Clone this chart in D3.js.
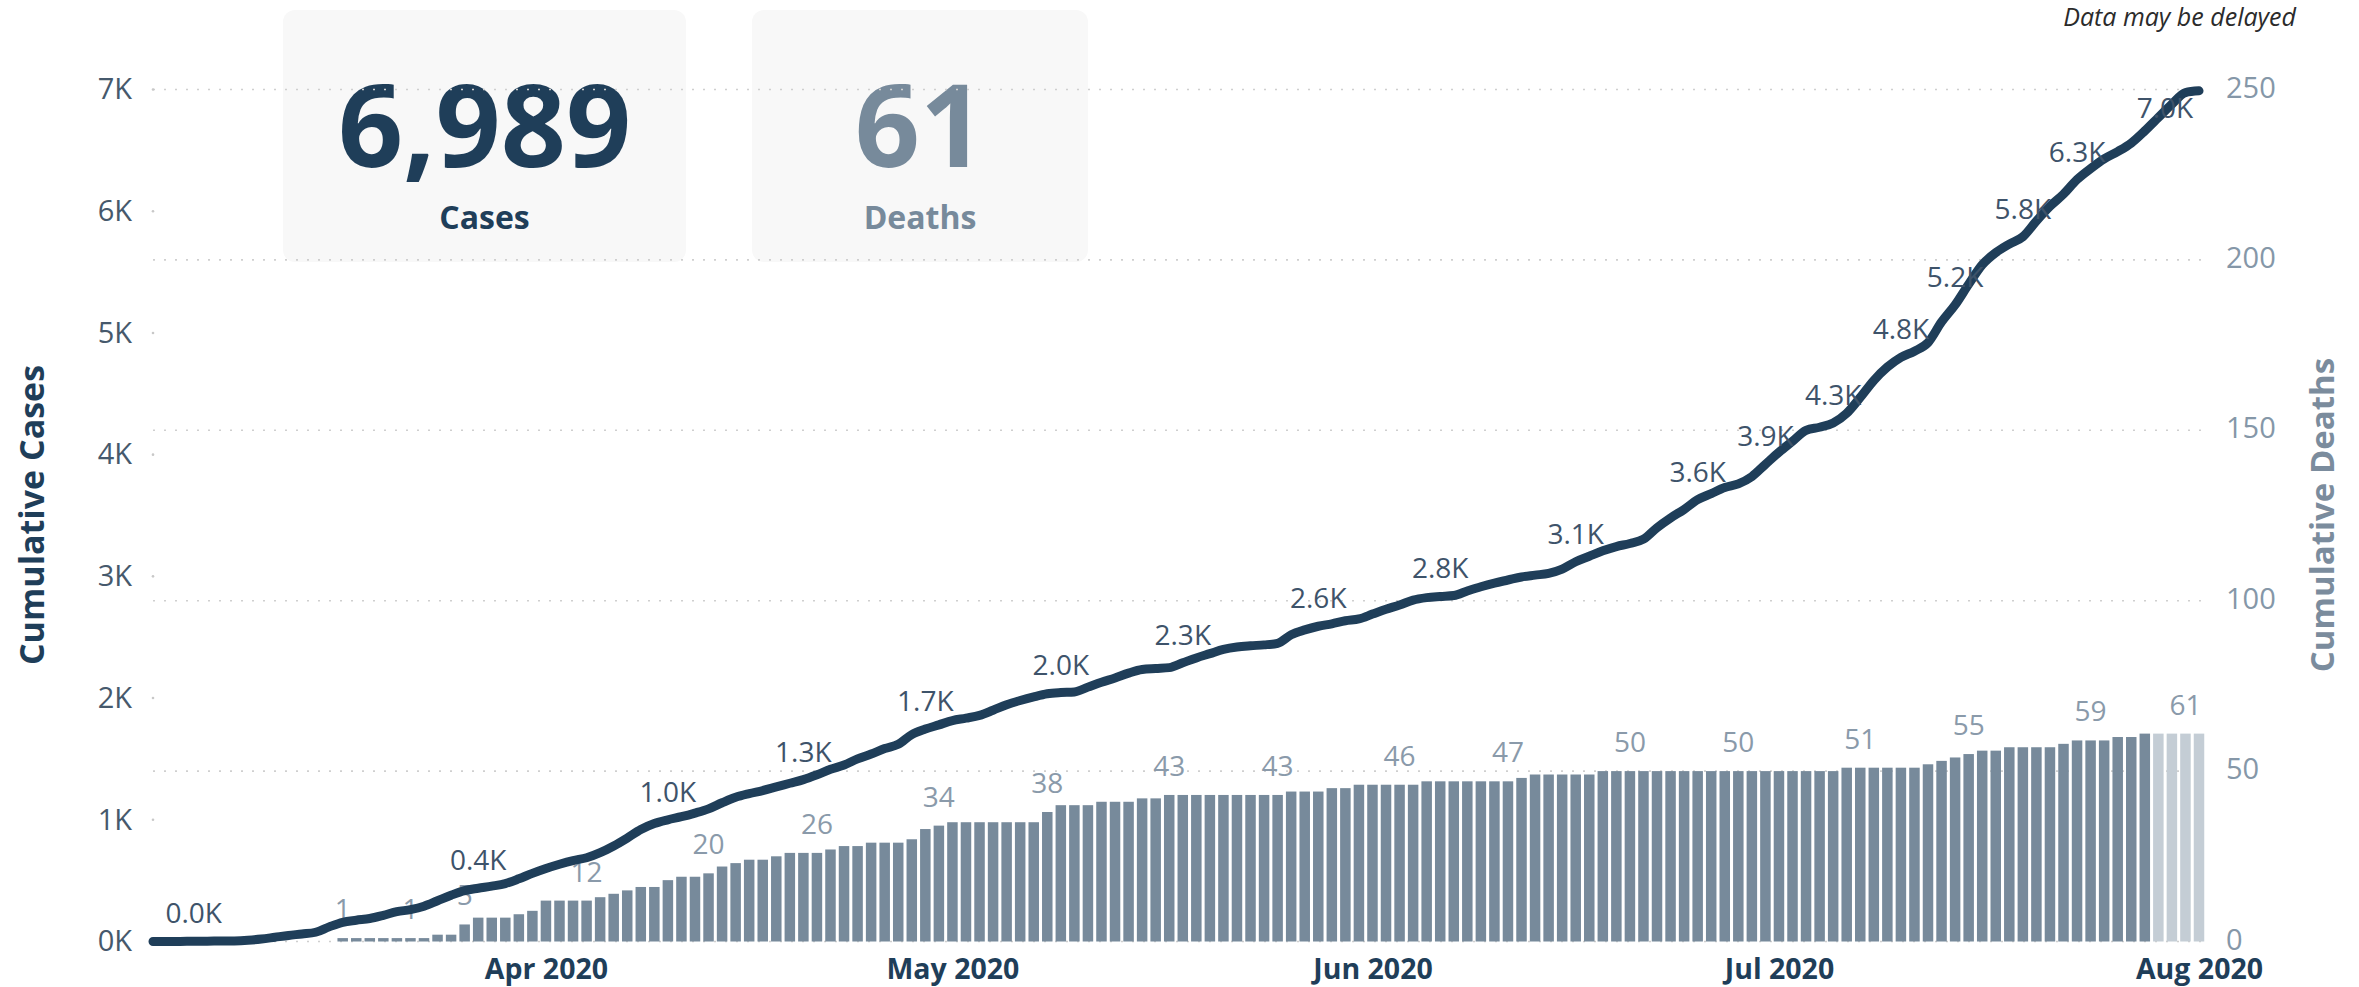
<!DOCTYPE html>
<html>
<head>
<meta charset="utf-8">
<script src="https://cdn.jsdelivr.net/npm/d3@7"></script>
<style>
  html, body { margin: 0; padding: 0; background: #ffffff; }
  svg { display: block; }
  text { font-family: 'Open Sans', 'Noto Sans', 'DejaVu Sans', sans-serif; }
</style>
</head>
<body>
<svg id="chart" width="2359" height="987"></svg>
<script>
// ---------------- DATA ----------------
const startDay = "2020-03-03";           // first day of the series
// cumulative cases, one value per day (Mar 3 – Aug 1 2020)
const cases = [
  0,0,1,2,3,4,5,10,20,35,
  50,62,76,120,158,175,189,215,245,262,
  290,335,380,418,438,455,476,515,560,600,
  635,665,688,730,785,850,920,969,1000,1025,
  1055,1090,1140,1185,1215,1240,1270,1300,1330,1370,
  1415,1450,1500,1540,1585,1620,1700,1745,1780,1815,
  1835,1858,1900,1945,1980,2010,2035,2045,2050,2090,
  2130,2165,2205,2235,2243,2250,2290,2330,2365,2400,
  2420,2430,2437,2450,2520,2560,2590,2610,2635,2650,
  2690,2730,2765,2805,2825,2835,2843,2880,2915,2945,
  2970,2995,3010,3025,3060,3120,3165,3210,3245,3270,
  3305,3400,3480,3550,3630,3680,3730,3760,3820,3920,
  4020,4110,4200,4225,4260,4340,4470,4610,4720,4800,
  4850,4920,5090,5230,5400,5560,5660,5730,5790,5920,
  6040,6140,6260,6350,6430,6490,6560,6660,6770,6880,
  6975,6989
];
// cumulative deaths, one value per day
const deaths = [
  0,0,0,0,0,0,0,0,0,0,0,0,0,0,
  1,1,1,1,1,1,1,
  2,2,5,7,7,7,8,9,
  12,12,12,12,13,14,15,16,16,18,
  19,19,20,22,23,24,24,25,26,26,
  26,27,28,28,29,29,29,30,33,34,
  35,35,35,35,35,35,35,38,40,40,
  40,41,41,41,42,42,43,43,43,43,
  43,43,43,43,43,44,44,44,45,45,
  46,46,46,46,46,47,47,47,47,47,
  47,47,48,49,49,49,49,49,50,50,
  50,50,50,50,50,50,50,50,50,50,
  50,50,50,50,50,50,51,51,51,51,
  51,51,52,53,54,55,56,56,57,57,
  57,57,58,59,59,59,60,60,61,61,
  61,61,61
];
// days shown as still incomplete (lighter bars)
const provisionalDays = 4;
// which days carry a data label
const caseLabelDays  = [3,24,38,48,57,67,76,86,95,105,114,119,124,129,133,138,142,151];
const deathLabelDays = [14,19,23,32,41,49,58,66,75,83,92,100,109,117,126,134,143,150];
// axis ticks
const caseTicks  = [0,1000,2000,3000,4000,5000,6000,7000];
const deathTicks = [0,50,100,150,200,250];
const monthTicks = ["2020-04-01","2020-05-01","2020-06-01","2020-07-01","2020-08-01"];
const titles = { left: "Cumulative Cases", right: "Cumulative Deaths",
                 cases: "Cases", deaths: "Deaths", note: "Data may be delayed" };

// ---------------- STYLE ----------------
const NAVY = "#1f3e59", SLATE = "#778a9b", LIGHT = "#c4cdd5";
const FONT = "'Open Sans', 'Noto Sans', 'DejaVu Sans', sans-serif";

const svg = d3.select("#chart");
const plot = { left: 153, right: 2205, top: 89.5, bottom: 941.5 };
const parse = d3.utcParse("%Y-%m-%d");
const t0 = parse(startDay);
const dates = cases.map((_, i) => d3.utcDay.offset(t0, i));

const x = d3.scaleUtc()
  .domain([dates[0], dates[dates.length - 1]])
  .range([plot.left, 2199]);
const yL = d3.scaleLinear().domain([0, 7000]).range([plot.bottom, plot.top]);
const yR = d3.scaleLinear().domain([0, 250]).range([plot.bottom, plot.top]);

// ---------------- KPI CARDS ----------------
const cards = [
  { x: 283, w: 403, value: d3.format(",")(cases[cases.length - 1]), label: titles.cases, color: NAVY },
  { x: 752, w: 336, value: d3.format(",")(deaths[deaths.length - 1]), label: titles.deaths, color: SLATE }
];
const cg = svg.append("g").selectAll("g").data(cards).join("g");
cg.append("rect")
  .attr("x", d => d.x).attr("y", 10).attr("width", d => d.w).attr("height", 252)
  .attr("rx", 12).attr("fill", "#f8f8f8");
cg.append("text")
  .attr("x", d => d.x + d.w / 2).attr("y", 167)
  .attr("text-anchor", "middle").attr("font-weight", 700).attr("font-size", 114)
  .attr("fill", d => d.color).text(d => d.value);
cg.append("text")
  .attr("x", d => d.x + d.w / 2).attr("y", 229)
  .attr("text-anchor", "middle").attr("font-weight", 700).attr("font-size", 32)
  .attr("fill", d => d.color).text(d => d.label);

// ---------------- GRID ----------------
svg.append("g").selectAll("line").data(deathTicks).join("line")
  .attr("x1", plot.left).attr("x2", plot.right)
  .attr("y1", d => yR(d)).attr("y2", d => yR(d))
  .attr("stroke", "#cfcfcf").attr("stroke-width", 1.6)
  .attr("stroke-dasharray", "2,9");
svg.append("g").selectAll("circle").data(caseTicks).join("circle")
  .attr("cx", plot.left).attr("cy", d => yL(d)).attr("r", 1.3).attr("fill", "#c8c8c8");

// ---------------- AXES ----------------
const axL = svg.append("g").attr("transform", `translate(${plot.left},0)`)
  .call(d3.axisLeft(yL).tickValues(caseTicks).tickSize(0).tickPadding(21)
        .tickFormat(d => d / 1000 + "K"));
axL.select(".domain").remove();
axL.selectAll("text").attr("font-family", FONT).attr("font-size", 29).attr("fill", "#46596c");

const axR = svg.append("g").attr("transform", `translate(${plot.right},0)`)
  .call(d3.axisRight(yR).tickValues(deathTicks).tickSize(0).tickPadding(21));
axR.select(".domain").remove();
axR.selectAll("text").attr("font-family", FONT).attr("font-size", 29).attr("fill", "#8597a8")
  .attr("dy", "0.26em");

const axX = svg.append("g").attr("transform", `translate(0,${plot.bottom})`)
  .call(d3.axisBottom(x).tickValues(monthTicks.map(parse)).tickSize(0).tickPadding(17)
        .tickFormat(d3.utcFormat("%b %Y")));
axX.select(".domain").remove();
axX.selectAll("text").attr("font-family", FONT).attr("font-size", 28.5)
  .attr("font-weight", 700).attr("fill", NAVY);

// axis titles
svg.append("text")
  .attr("transform", `translate(44,515) rotate(-90)`)
  .attr("text-anchor", "middle").attr("font-weight", 700).attr("font-size", 34)
  .attr("fill", NAVY).text(titles.left);
svg.append("text")
  .attr("transform", `translate(2334,515) rotate(-90)`)
  .attr("text-anchor", "middle").attr("font-weight", 700).attr("font-size", 33)
  .attr("fill", "#7b8c9d").text(titles.right);

// note
svg.append("text")
  .attr("x", 2296).attr("y", 26).attr("text-anchor", "end")
  .attr("font-style", "italic").attr("font-size", 25).attr("fill", "#2b2b2b")
  .text(titles.note);

// ---------------- BARS (deaths) ----------------
const barW = 10.5;
const firstProvisional = deaths.length - provisionalDays;
svg.append("g").selectAll("rect").data(deaths).join("rect")
  .attr("x", (d, i) => x(dates[i]) - barW / 2)
  .attr("width", barW)
  .attr("y", d => yR(d))
  .attr("height", d => plot.bottom - yR(d))
  .attr("fill", (d, i) => i >= firstProvisional ? LIGHT : SLATE);

svg.append("g").selectAll("text").data(deathLabelDays).join("text")
  .attr("x", i => x(dates[i]))
  .attr("y", i => yR(deaths[i]) - 19)
  .attr("text-anchor", "middle").attr("font-size", 28).attr("fill", "#8a9aaa")
  .text(i => deaths[i]);

// ---------------- LINE (cases) ----------------
const line = d3.line()
  .x((d, i) => x(dates[i]))
  .y(d => yL(d))
  .curve(d3.curveMonotoneX);
svg.append("path")
  .datum(cases)
  .attr("d", line)
  .attr("fill", "none").attr("stroke", NAVY).attr("stroke-width", 9)
  .attr("stroke-linejoin", "round").attr("stroke-linecap", "round");

const fmtK = v => d3.format(".1f")(v / 1000) + "K";
svg.append("g").selectAll("text").data(caseLabelDays).join("text")
  .attr("x", i => Math.min(x(dates[i]), plot.right - 40))
  .attr("y", i => {
    const py = yL(cases[i]);
    return (py - 18 - 21 < plot.top) ? py + 27 : py - 18;
  })
  .attr("text-anchor", "middle").attr("font-size", 28).attr("fill", "#3e536a")
  .text(i => fmtK(cases[i]));
</script>
</body>
</html>
